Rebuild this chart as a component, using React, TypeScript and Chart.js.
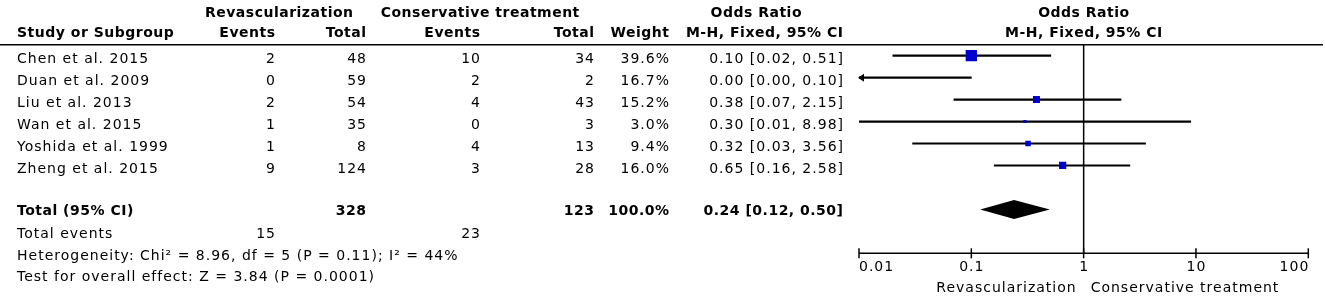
import React, { useEffect, useRef } from 'react';
import { Chart, registerables } from 'chart.js';

Chart.register(...registerables);

// ---------- data ----------
const studies = ['Chen et al. 2015', 'Duan et al. 2009', 'Liu et al. 2013', 'Wan et al. 2015', 'Yoshida et al. 1999', 'Zheng et al. 2015'];
const revEvents = [2, 0, 2, 1, 1, 9];
const revTotal = [48, 59, 54, 35, 8, 124];
const consEvents = [10, 2, 4, 0, 4, 3];
const consTotal = [34, 2, 43, 3, 13, 28];
const weights = [39.6, 16.7, 15.2, 3.0, 9.4, 16.0];
const orEst = [0.10, 0.00, 0.38, 0.30, 0.32, 0.65];
const orLow = [0.02, 0.00, 0.07, 0.01, 0.03, 0.16];
const orHigh = [0.51, 0.10, 2.15, 8.98, 3.56, 2.58];

const totalRevEvents = 15;
const totalRevTotal = 328;
const totalConsEvents = 23;
const totalConsTotal = 123;
const totalWeight = 100.0;
const totalOR = 0.24;
const totalLow = 0.12;
const totalHigh = 0.50;

const heterogeneityText = 'Heterogeneity: Chi\u00B2 = 8.96, df = 5 (P = 0.11); I\u00B2 = 44%';
const overallText = 'Test for overall effect: Z = 3.84 (P = 0.0001)';
const xTicks = [0.01, 0.1, 1, 10, 100];
const xTickLabels = ['0.01', '0.1', '1', '10', '100'];
const favoursLeft = 'Revascularization';
const favoursRight = 'Conservative treatment';

const studyRows = studies.map((_, i) => i + 1);
const totalRow = 8;

const AXIS_MIN = 0.01;
const AXIS_MAX = 100;

// ---------- layout ----------
const FONT = '"DejaVu Sans", Verdana, sans-serif';
const COL_STUDY = 17;
const COL_REV_EV = 275;
const COL_REV_TOT = 366;
const COL_CON_EV = 480;
const COL_CON_TOT = 594;
const COL_WEIGHT = 669;
const COL_OR = 843;
const SQUARE_BLUE = '#0000CC';

function fmt2(v: number) {
  return v.toFixed(2);
}

function drawText(ctx: CanvasRenderingContext2D, s: string, x: number, y: number, align: CanvasTextAlign, bold = false) {
  ctx.save();
  ctx.font = `${bold ? 'bold ' : ''}14px ${FONT}`;
  const sp = bold ? 0.5 : 1;
  (ctx as any).letterSpacing = `${sp}px`;
  ctx.textAlign = align;
  ctx.textBaseline = 'alphabetic';
  ctx.fillStyle = '#000';
  const dx = align === 'right' ? sp : align === 'center' ? sp / 2 : 0;
  ctx.fillText(s, x + dx, y);
  ctx.restore();
}

const forestPlugin = {
  id: 'forest',
  beforeDatasetsDraw(chart: any) {
    const { ctx, chartArea, scales } = chart;
    const xs = scales.x;
    ctx.save();
    ctx.strokeStyle = '#000';
    ctx.lineWidth = 1.5;
    // header rule
    ctx.beginPath();
    ctx.moveTo(0, chartArea.top);
    ctx.lineTo(1323, chartArea.top);
    ctx.stroke();
    // line of no effect
    const x1 = xs.getPixelForValue(1);
    ctx.beginPath();
    ctx.moveTo(x1, chartArea.top);
    ctx.lineTo(x1, chartArea.bottom);
    ctx.stroke();
    // axis
    ctx.beginPath();
    ctx.moveTo(xs.getPixelForValue(AXIS_MIN), chartArea.bottom);
    ctx.lineTo(xs.getPixelForValue(AXIS_MAX), chartArea.bottom);
    ctx.stroke();
    xTicks.forEach((t) => {
      const px = xs.getPixelForValue(t);
      ctx.beginPath();
      ctx.moveTo(px, chartArea.bottom - 5);
      ctx.lineTo(px, chartArea.bottom + 5);
      ctx.stroke();
    });
    ctx.restore();
  },
  afterDatasetsDraw(chart: any) {
    const { ctx, chartArea, scales } = chart;
    const xs = scales.x;
    const ys = scales.y;
    const x1 = xs.getPixelForValue(1);

    // arrows for CIs beyond axis
    ctx.save();
    ctx.fillStyle = '#000';
    studyRows.forEach((r, i) => {
      const py = ys.getPixelForValue(r);
      if (orLow[i] < AXIS_MIN) {
        const px = xs.getPixelForValue(AXIS_MIN);
        ctx.beginPath();
        ctx.moveTo(px - 1, py);
        ctx.lineTo(px + 5, py - 4);
        ctx.lineTo(px + 5, py + 4);
        ctx.closePath();
        ctx.fill();
      }
      if (orHigh[i] > AXIS_MAX) {
        const px = xs.getPixelForValue(AXIS_MAX);
        ctx.beginPath();
        ctx.moveTo(px + 1, py);
        ctx.lineTo(px - 5, py - 4);
        ctx.lineTo(px - 5, py + 4);
        ctx.closePath();
        ctx.fill();
      }
    });
    // pooled diamond
    const dy = ys.getPixelForValue(totalRow);
    ctx.beginPath();
    ctx.moveTo(xs.getPixelForValue(totalLow), dy);
    ctx.lineTo(xs.getPixelForValue(totalOR), dy - 9.5);
    ctx.lineTo(xs.getPixelForValue(totalHigh), dy);
    ctx.lineTo(xs.getPixelForValue(totalOR), dy + 9.5);
    ctx.closePath();
    ctx.fill();
    ctx.restore();

    // headers
    const h1 = chartArea.top - 28;
    const h2 = chartArea.top - 7.7;
    drawText(ctx, 'Revascularization', 279, h1, 'center', true);
    drawText(ctx, 'Conservative treatment', 480, h1, 'center', true);
    drawText(ctx, 'Odds Ratio', 756, h1, 'center', true);
    drawText(ctx, 'Odds Ratio', x1, h1, 'center', true);
    drawText(ctx, 'Study or Subgroup', COL_STUDY, h2, 'left', true);
    drawText(ctx, 'Events', COL_REV_EV, h2, 'right', true);
    drawText(ctx, 'Total', COL_REV_TOT, h2, 'right', true);
    drawText(ctx, 'Events', COL_CON_EV, h2, 'right', true);
    drawText(ctx, 'Total', COL_CON_TOT, h2, 'right', true);
    drawText(ctx, 'Weight', COL_WEIGHT, h2, 'right', true);
    drawText(ctx, 'M-H, Fixed, 95% CI', COL_OR, h2, 'right', true);
    drawText(ctx, 'M-H, Fixed, 95% CI', x1, h2, 'center', true);

    // study rows
    studyRows.forEach((r, i) => {
      const by = ys.getPixelForValue(r) + 7.8;
      drawText(ctx, studies[i], COL_STUDY, by, 'left');
      drawText(ctx, String(revEvents[i]), COL_REV_EV, by, 'right');
      drawText(ctx, String(revTotal[i]), COL_REV_TOT, by, 'right');
      drawText(ctx, String(consEvents[i]), COL_CON_EV, by, 'right');
      drawText(ctx, String(consTotal[i]), COL_CON_TOT, by, 'right');
      drawText(ctx, weights[i].toFixed(1) + '%', COL_WEIGHT, by, 'right');
      drawText(ctx, `${fmt2(orEst[i])} [${fmt2(orLow[i])}, ${fmt2(orHigh[i])}]`, COL_OR, by, 'right');
    });

    // total row
    const tb = ys.getPixelForValue(totalRow) + 6;
    drawText(ctx, 'Total (95% CI)', COL_STUDY, tb, 'left', true);
    drawText(ctx, String(totalRevTotal), COL_REV_TOT, tb, 'right', true);
    drawText(ctx, String(totalConsTotal), COL_CON_TOT, tb, 'right', true);
    drawText(ctx, totalWeight.toFixed(1) + '%', COL_WEIGHT, tb, 'right', true);
    drawText(ctx, `${fmt2(totalOR)} [${fmt2(totalLow)}, ${fmt2(totalHigh)}]`, COL_OR, tb, 'right', true);

    // footer
    const fb = chartArea.bottom;
    drawText(ctx, 'Total events', COL_STUDY, fb - 15.3, 'left');
    drawText(ctx, String(totalRevEvents), COL_REV_EV, fb - 15.3, 'right');
    drawText(ctx, String(totalConsEvents), COL_CON_EV, fb - 15.3, 'right');
    drawText(ctx, heterogeneityText, COL_STUDY, fb + 6.2, 'left');
    drawText(ctx, overallText, COL_STUDY, fb + 27.2, 'left');

    // axis labels (outer ones aligned inward, as in the reference)
    xTicks.forEach((t, i) => {
      const align: CanvasTextAlign = i === 0 ? 'left' : i === xTicks.length - 1 ? 'right' : 'center';
      drawText(ctx, xTickLabels[i], xs.getPixelForValue(t), fb + 18, align);
    });
    drawText(ctx, favoursLeft, x1 - 8, fb + 38.5, 'right');
    drawText(ctx, favoursRight, x1 + 7, fb + 38.5, 'left');
  },
};

export default function App() {
  const ref = useRef<HTMLCanvasElement>(null);
  useEffect(() => {
    const canvas = ref.current;
    if (!canvas) return;
    const chart = new Chart(canvas, {
      type: 'scatter',
      data: {
        datasets: [
          {
            type: 'scatter',
            label: 'Odds ratio',
            data: studyRows.map((r, i) => ({ x: orEst[i] >= AXIS_MIN && orEst[i] <= AXIS_MAX ? orEst[i] : null, y: r })) as any,
            pointStyle: 'rect',
            pointRadius: (c: any) => (1.8 * Math.sqrt(weights[c.dataIndex] ?? 0)) / Math.SQRT2,
            backgroundColor: SQUARE_BLUE,
            borderColor: SQUARE_BLUE,
            borderWidth: 0,
            order: 0,
          } as any,
          {
            type: 'bar',
            label: '95% CI',
            indexAxis: 'y',
            data: studyRows.map((r, i) => ({
              x: [Math.max(orLow[i], AXIS_MIN), Math.min(orHigh[i], AXIS_MAX)],
              y: r,
            })) as any,
            barThickness: 1.5,
            backgroundColor: '#000',
            borderWidth: 0,
            grouped: false,
            order: 1,
          } as any,
        ],
      },
      options: {
        responsive: false,
        animation: false,
        devicePixelRatio: 1,
        events: [],
        layout: { padding: { left: 859, right: 16.7, top: 44.7, bottom: 42.7 } },
        scales: {
          x: { type: 'logarithmic', min: AXIS_MIN, max: AXIS_MAX, display: false, offset: false },
          y: { type: 'linear', min: 0.5, max: 10, reverse: true, display: false, offset: false, grace: 0 },
        },
        plugins: { legend: { display: false }, tooltip: { enabled: false } },
      } as any,
      plugins: [forestPlugin as any],
    });
    return () => chart.destroy();
  }, []);
  return (
    <div style={{ position: 'fixed', left: 0, top: 0, width: 1325, height: 296, background: '#fff' }}>
      <canvas ref={ref} width={1325} height={296} style={{ display: 'block', width: 1325, height: 296 }} />
    </div>
  );
}
